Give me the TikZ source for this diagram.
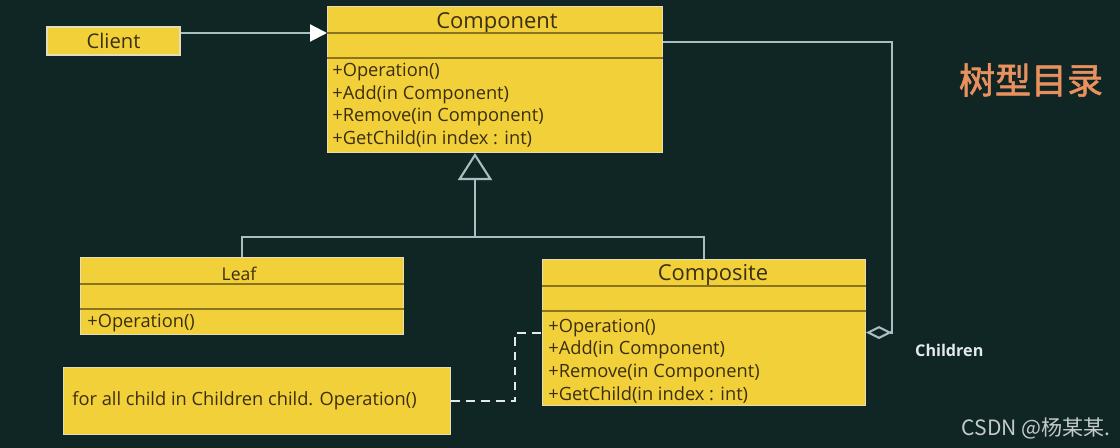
\documentclass[tikz,border=0pt]{standalone}
\usepackage{fontspec}
\setmainfont{Open Sans}
\newfontfamily\cjkfont{Noto Sans CJK SC}
\newfontfamily\cjkheavy{Noto Sans CJK SC}[FakeBold=1.6]
\usetikzlibrary{arrows.meta,calc,positioning}
\definecolor{board}{HTML}{102624}
\definecolor{umlfill}{HTML}{F2D03A}
\definecolor{umledge}{HTML}{E4DDB8}
\definecolor{umlink}{HTML}{3B2F0F}
\definecolor{umlrule}{HTML}{8A7420}
\definecolor{wire}{HTML}{A9BEC2}
\definecolor{chalk}{HTML}{E2EAEA}
\definecolor{salmon}{HTML}{E8905E}
\definecolor{wmgray}{HTML}{C5CBCB}
\newcommand\classrules[1]{%
  \draw[seprule] ($(#1.north west)+(0,27)$) -- ($(#1.north east)+(0,27)$);
  \draw[seprule] ($(#1.north west)+(0,52)$) -- ($(#1.north east)+(0,52)$);}
\begin{document}
\begin{tikzpicture}[
    x=0.02cm,y=-0.02cm,
    classbox/.style={draw=umledge,line width=0.6pt,fill=umlfill,inner sep=0pt,text=umlink},
    classtitle/.style={text=umlink,inner sep=0pt,font=\fontsize{12.5}{14}\selectfont},
    member/.style={text=umlink,anchor=west,inner sep=0pt,font=\fontsize{10.4}{12}\selectfont},
    seprule/.style={draw=umlrule,line width=0.6pt},
    wireline/.style={draw=wire,line width=1.2pt},
    notelink/.style={draw=chalk,line width=1.5pt,dash pattern=on 5pt off 3.5pt}
  ]
    \fill[board] (0,0) rectangle (1120,448);

    % client
    \node[classbox,minimum width=2.66cm,minimum height=0.56cm,font=\fontsize{11.5}{13}\selectfont] (client) at (113.5,41) {Client};

    % component
    \node[classbox,minimum width=6.7cm,minimum height=2.92cm,anchor=north west] (cmp) at (327,6) {};
    \node[classtitle] (cmptitle) at ($(cmp.north)+(2,17)$) {Component};
    \classrules{cmp}
    \foreach \m [count=\i] in {{+Operation()},{+Add(in Component)},{+Remove(in Component)},{+GetChild(in index : int)}}
      \node[member] (cmpop\i) at ($(cmp.north west)+(5,{43.5+22.5*\i})$) {\m};
    \coordinate (cmpsep) at ($(cmp.north west)+(0,27)$);

    % leaf
    \node[classbox,minimum width=6.46cm,minimum height=1.54cm,anchor=north west] (leaf) at (80,257) {};
    \node[classtitle,font=\fontsize{10}{12}\selectfont] (leaftitle) at ($(leaf.north)+(-3,17)$) {Leaf};
    \classrules{leaf}
    \node[member] (leafop) at ($(leaf.north west)+(7,66)$) {+Operation()};

    % composite
    \node[classbox,minimum width=6.46cm,minimum height=2.92cm,anchor=north west] (comp) at (542,259) {};
    \node[classtitle] (comptitle) at ($(comp.north)+(9,16)$) {Composite};
    \classrules{comp}
    \foreach \m [count=\i] in {{+Operation()},{+Add(in Component)},{+Remove(in Component)},{+GetChild(in index : int)}}
      \node[member] (compop\i) at ($(comp.north west)+(6,{46+22.6*\i})$) {\m};

    % note
    \node[classbox,minimum width=7.74cm,minimum height=1.34cm,anchor=north west] (note) at (63,367) {};
    \node[member,font=\fontsize{10.4}{12}\selectfont] (notetext) at ($(note.west)+(9,0)$) {for all child in Children child. Operation()};

    % connectors
    \coordinate (fork) at (475,237);
    \draw[wireline] (leaf.north) |- (fork) -| (comp.north);
    \draw[wireline,-{Triangle[open,fill=board,length=5.4mm,width=6.8mm]}] (fork) -- (fork |- cmp.south);
    \draw[wireline,-{Triangle[color=white,fill=white,length=3.4mm,width=3.4mm]}] (client.east |- cmpsep) -- (cmpsep);
    \coordinate (aggbend) at ($(comp.east)+(26,0)$);
    \draw[wireline,-{Diamond[open,fill=board,length=5.2mm,width=2.6mm]}] ($(cmp.north east)+(0,36)$) -| (aggbend) -- (comp.east);
    \coordinate (kink) at (515,333);
    \draw[notelink] (note.east) -| (kink) -- (kink -| comp.west);

    % labels
    \node[font=\bfseries\fontsize{9.2}{11}\selectfont,text=chalk,anchor=west] (childrenlbl) at (909,350) {Children};
    \node[font=\cjkheavy\fontsize{20.5}{24}\selectfont,text=salmon] (heading) at (1031,80) {树型目录};
    \node[font=\cjkfont\fontsize{12}{14}\selectfont,text=wmgray,anchor=east] (watermark) at (1117,428) {CSDN @杨某某.};
\end{tikzpicture}
\end{document}
